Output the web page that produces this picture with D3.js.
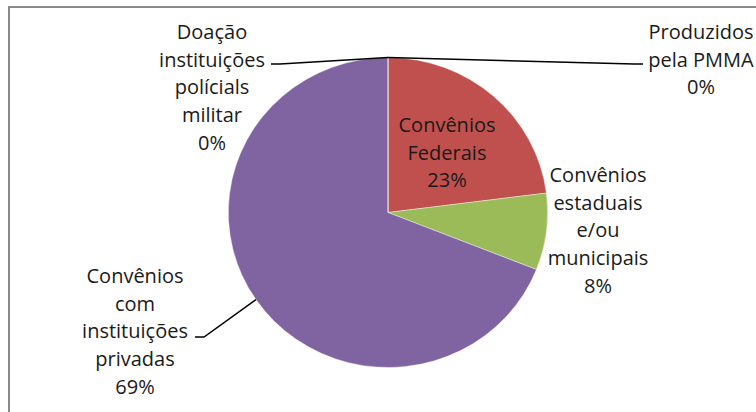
<!DOCTYPE html>
<html>
<head>
<meta charset="utf-8">
<script src="https://cdn.jsdelivr.net/npm/d3@7"></script>
<style>
  body { margin: 0; background: #fff; }
  text { font-family: "Open Sans", sans-serif; fill: #1a1a1a; }
</style>
</head>
<body>
<div id="chart"></div>
<script>
const width = 756;
const height = 412;

// data, clockwise from 12 o'clock
const categories = [
    ["Produzidos", "pela PMMA"],
    ["Convênios", "Federais"],
    ["Convênios", "estaduais", "e/ou", "municipais"],
    ["Convênios", "com", "instituições", "privadas"],
    ["Doação", "instituições", "polícials", "militar"]
];
const values = [0, 23, 8, 69, 0];
const colors = ["#4F81BD", "#C0504D", "#9BBB59", "#8064A2", "#4BACC6"];

// label placement (first line centre, leader anchor)
const labelPos = [
    { x: 701, y: 32, anchor: [643, 64], side: 1 },
    { x: 447, y: 125, anchor: null },
    { x: 598, y: 175, anchor: null },
    { x: 135, y: 276, anchor: [195, 337], side: -1 },
    { x: 212, y: 32, anchor: [271, 64], side: -1 }
];
const lineGap = 27.7;

const cx = 388, cy = 212.5, r = 155, sx = 1.03;

const svg = d3.select("#chart")
    .append("svg")
    .attr("width", width)
    .attr("height", height);

// chart frame
svg.append("rect")
    .attr("x", 9)
    .attr("y", 7)
    .attr("width", 760)
    .attr("height", 420)
    .attr("fill", "none")
    .attr("stroke", "#8a8a8a")
    .attr("stroke-width", 2);

const pie = d3.pie().sort(null).value(d => d)
    .startAngle(0).endAngle(2 * Math.PI);
const arcs = pie(values);

const arc = d3.arc().innerRadius(0).outerRadius(r);
const edge = d3.arc().innerRadius(r).outerRadius(r);

const g = svg.append("g")
    .attr("transform", `translate(${cx},${cy}) scale(${sx},1)`);

g.selectAll("path")
    .data(arcs)
    .enter()
    .append("path")
    .attr("d", arc)
    .attr("fill", (d, i) => colors[i])
    .attr("stroke", "#fff")
    .attr("stroke-width", 0.4);

const total = d3.sum(values);

// leader lines
arcs.forEach((d, i) => {
    const p = labelPos[i];
    if (!p.anchor) return;
    const c = edge.centroid(d);
    const start = [cx + c[0] * sx, cy + c[1]];
    const elbow = [p.anchor[0] - p.side * 9, p.anchor[1]];
    svg.append("path")
        .attr("d", d3.line()([start, elbow, p.anchor]))
        .attr("fill", "none")
        .attr("stroke", "#000")
        .attr("stroke-width", 1.5);
});

// labels
arcs.forEach((d, i) => {
    const p = labelPos[i];
    const lines = categories[i].concat([Math.round(values[i] / total * 100) + "%"]);
    const t = svg.append("text")
        .attr("text-anchor", "middle")
        .attr("font-size", 20);
    lines.forEach((s, k) => {
        t.append("tspan")
            .attr("x", p.x)
            .attr("y", p.y + k * lineGap)
            .attr("dy", "0.35em")
            .text(s);
    });
});
</script>
</body>
</html>
